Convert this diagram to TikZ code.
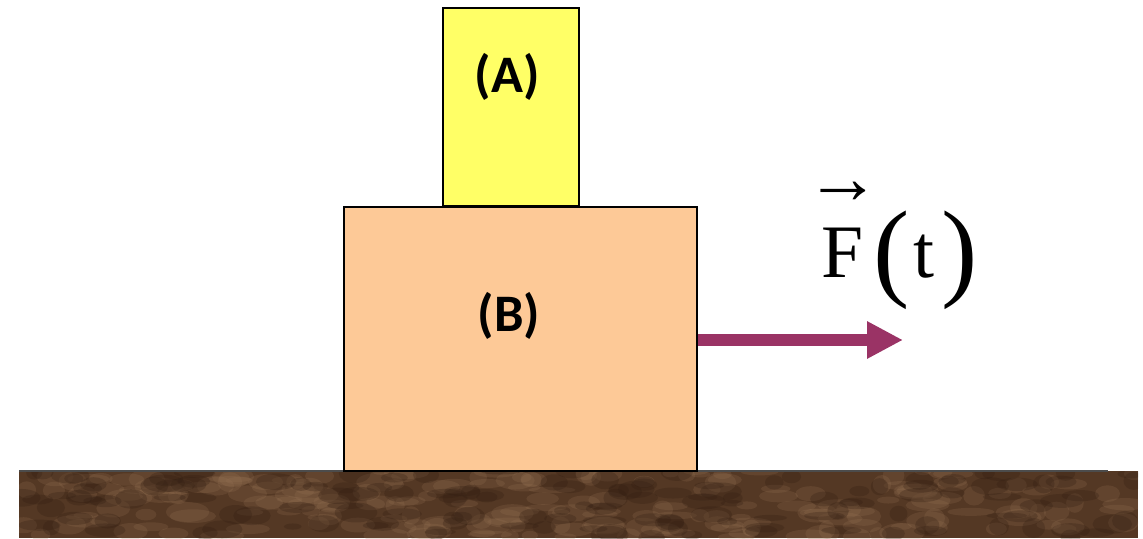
\documentclass[tikz,border=0pt]{standalone}
\usepackage{fontspec}
\setmainfont{Liberation Serif}
\newfontfamily\labelfont{Carlito}
\usetikzlibrary{arrows.meta,positioning}
\definecolor{groundbrown}{RGB}{84,56,36}
\definecolor{groundlight}{RGB}{150,115,85}
\definecolor{grounddark}{RGB}{50,30,18}
\definecolor{blockyellow}{RGB}{255,255,102}
\definecolor{blockpeach}{RGB}{253,201,151}
\definecolor{forcepurple}{RGB}{154,51,101}
\tikzset{
  block/.style={draw=black, line width=1pt, inner sep=0pt},
  tag/.style={font=\labelfont\bfseries\fontsize{30}{30}\selectfont},
  force/.style={forcepurple, line width=6.8pt,
    -{Triangle[length=0.72cm, width=0.7cm]}},
  glyph/.style={inner sep=0pt, font=\fontsize{#1}{#1}\selectfont},
}
\begin{document}
\begin{tikzpicture}[x=0.02cm, y=0.02cm]
\useasboundingbox (0,0) rectangle (1143,538);
% ground
\begin{scope}
\clip (19,0) rectangle (1138,67);
\fill[groundbrown] (19,0) rectangle (1138,67);
\pgfmathsetseed{7}
\foreach \i in {1,...,220}{
  \pgfmathsetmacro{\px}{19+1119*rnd}
  \pgfmathsetmacro{\py}{67*rnd}
  \pgfmathsetmacro{\rx}{8+16*rnd}
  \pgfmathsetmacro{\ry}{3+7*rnd}
  \fill[groundlight, opacity=0.22] (\px,\py) ellipse [x radius=\rx, y radius=\ry];
}
\foreach \i in {1,...,150}{
  \pgfmathsetmacro{\px}{19+1119*rnd}
  \pgfmathsetmacro{\py}{67*rnd}
  \pgfmathsetmacro{\rx}{8+14*rnd}
  \pgfmathsetmacro{\ry}{3+7*rnd}
  \fill[grounddark, opacity=0.28] (\px,\py) ellipse [x radius=\rx, y radius=\ry];
}
\end{scope}
\draw[black!70, line width=1pt] (19,67) -- (1108,67);
% blocks
\node[block, fill=blockpeach, minimum width=7.06cm, minimum height=5.28cm] (B) at (520.5,199) {};
\node[block, fill=blockyellow, minimum width=2.72cm, minimum height=3.96cm, anchor=south] (A) at (511,331) {};
\node[tag] (Alabel) at (507,461) {(A)};
\node[tag] (Blabel) at (509,222) {(B)};
% force
\coordinate (tip) at (903,198);
\draw[force] (B.east |- tip) -- (tip);
\node[glyph=43, anchor=base] (F) at (842,260) {F};
\node[glyph=43] (Farrow) at (843,345) {→};
\node[glyph=62, anchor=base west] (lp) at (873,251) {(};
\node[glyph=43, anchor=base] (t) at (924,260) {t};
\node[glyph=62, anchor=base west] (rp) at (941,251) {)};
\end{tikzpicture}
\end{document}
